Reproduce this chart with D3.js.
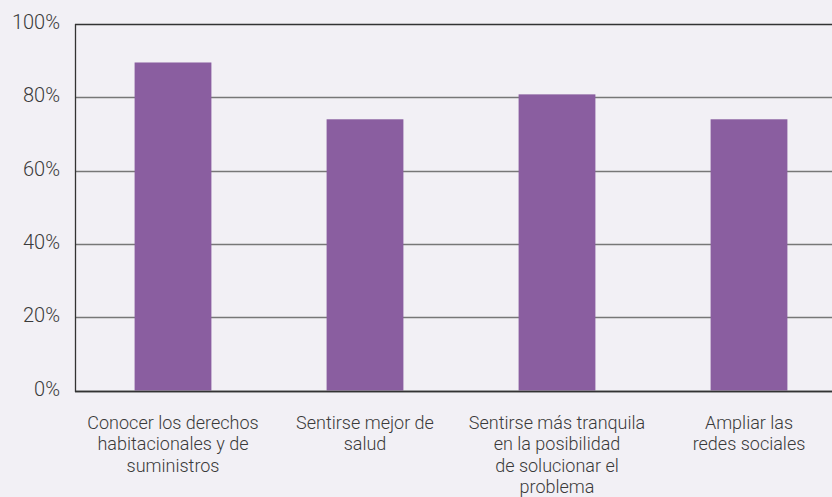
<!DOCTYPE html>
<html>
<head>
  <meta charset="utf-8">
  <title>Beneficios</title>
  <script src="https://d3js.org/d3.v7.min.js"></script>
</head>
<style>
  html, body {
    margin: 0;
    padding: 0;
    background-color: #f2f0f5;
  }
  body {
    font-family: Roboto, sans-serif;
    font-weight: 300;
  }
  .tick-label {
    fill: #3a3a3a;
    font-size: 20px;
  }
  .cat-label {
    fill: #3a3a3a;
    font-size: 18px;
  }
</style>
<body>
<div id="chart"></div>
<script>
// Data
var categories = [
  "Conocer los derechos habitacionales y de suministros",
  "Sentirse mejor de salud",
  "Sentirse más tranquila en la posibilidad de solucionar el problema",
  "Ampliar las redes sociales"
];
var categoryLines = [
  ["Conocer los derechos", "habitacionales y de", "suministros"],
  ["Sentirse mejor de", "salud"],
  ["Sentirse más tranquila", "en la posibilidad", "de solucionar el", "problema"],
  ["Ampliar las", "redes sociales"]
];
var values = [89.5, 74, 80.8, 74];
var yTicks = [0, 20, 40, 60, 80, 100];

var width = 832,
    height = 497;
var margin = { top: 24, right: -13, bottom: 106.5, left: 75 };

var svg = d3.select("#chart")
  .append("svg")
  .attr("width", width)
  .attr("height", height);

var x = d3.scaleBand()
  .domain(categories)
  .range([margin.left + 2, width - margin.right])
  .paddingInner(0.6)
  .paddingOuter(0.3);

var y = d3.scaleLinear()
  .domain([0, 100])
  .range([height - margin.bottom, margin.top]);

// gridlines
svg.selectAll(".grid")
  .data(yTicks)
  .enter()
  .append("line")
  .attr("x1", margin.left)
  .attr("x2", width)
  .attr("y1", function(d) { return Math.round(y(d)) + 0.5; })
  .attr("y2", function(d) { return Math.round(y(d)) + 0.5; })
  .attr("stroke", function(d) { return (d === 0 || d === 100) ? "#333" : "#777"; })
  .attr("stroke-width", 1.3);

// tick labels
svg.selectAll(".tick-label")
  .data(yTicks)
  .enter()
  .append("text")
  .attr("class", "tick-label")
  .attr("x", 60)
  .attr("y", function(d) { return y(d) - 2; })
  .attr("dy", "0.35em")
  .attr("text-anchor", "end")
  .text(function(d) { return d + "%"; });

// bars
svg.selectAll(".bar")
  .data(values)
  .enter()
  .append("rect")
  .attr("class", "bar")
  .attr("x", function(d, i) { return x(categories[i]); })
  .attr("width", x.bandwidth())
  .attr("y", function(d) { return y(d); })
  .attr("height", function(d) { return y(0) - y(d); })
  .attr("fill", "#8a5ea0");

// left axis line (drawn over bars)
svg.append("line")
  .attr("x1", margin.left + 0.5)
  .attr("x2", margin.left + 0.5)
  .attr("y1", y(100))
  .attr("y2", Math.round(y(0)) + 1)
  .attr("stroke", "#333")
  .attr("stroke-width", 1.3);

// bottom axis on top of bars
svg.append("line")
  .attr("x1", margin.left)
  .attr("x2", width)
  .attr("y1", Math.round(y(0)) + 0.5)
  .attr("y2", Math.round(y(0)) + 0.5)
  .attr("stroke", "#333")
  .attr("stroke-width", 1.3);

// category labels
var labels = svg.selectAll(".cat-label")
  .data(categoryLines)
  .enter()
  .append("text")
  .attr("class", "cat-label")
  .attr("text-anchor", "middle")
  .attr("transform", function(d, i) {
    return "translate(" + (x(categories[i]) + x.bandwidth() / 2) + "," + (y(0) + 38) + ")";
  });

labels.selectAll("tspan")
  .data(function(d) { return d; })
  .enter()
  .append("tspan")
  .attr("x", 0)
  .attr("y", function(d, j) { return j * 21.5; })
  .text(function(d) { return d; });
</script>
</body>
</html>
